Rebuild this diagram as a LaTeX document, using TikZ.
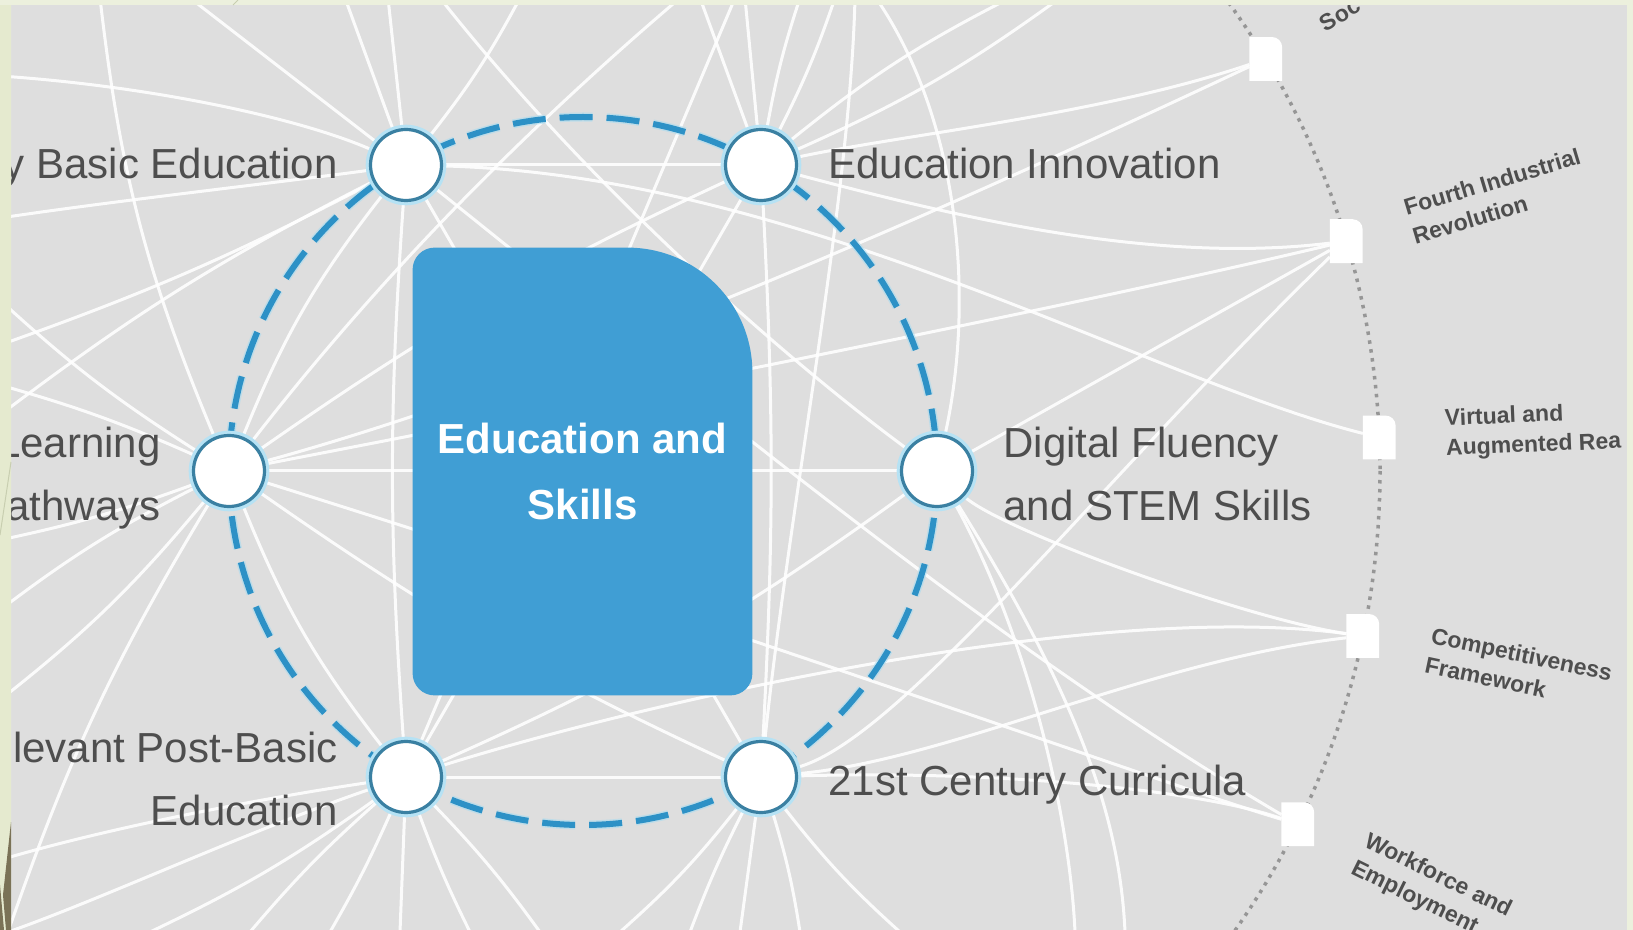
\documentclass[tikz,border=0pt]{standalone}
\usepackage{fontspec}
\setmainfont{Liberation Sans}
\usetikzlibrary{calc}
\definecolor{bggray}{RGB}{222,222,222}
\definecolor{framegreen}{RGB}{236,240,221}
\definecolor{frameleft}{RGB}{229,234,207}
\definecolor{framelinec}{RGB}{200,206,176}
\definecolor{olivec}{RGB}{122,114,86}
\definecolor{boxblue}{RGB}{64,158,212}
\definecolor{ringblue}{RGB}{45,145,198}
\definecolor{ringhalo}{RGB}{170,220,240}
\definecolor{nodeedge}{RGB}{58,128,162}
\definecolor{haloblue}{RGB}{182,226,244}
\definecolor{labelgray}{RGB}{78,78,78}
\definecolor{dotgray}{RGB}{150,150,150}
\pgfdeclarelayer{bg}
\pgfdeclarelayer{lines}
\pgfdeclarelayer{shapes}
\pgfdeclarelayer{top}
\pgfsetlayers{bg,lines,shapes,main,top}
\begin{document}
\begin{tikzpicture}[x=0.5pt,y=-0.5pt,
  hub/.style={circle, minimum size=35.5pt, inner sep=0pt, fill=white, draw=nodeedge, line width=1.6pt, preaction={draw=haloblue, line width=4.8pt}},
  topic/.style={rectangle, minimum width=16pt, minimum height=21.5pt, inner sep=0pt},
  biglabel/.style={font=\fontsize{21}{31.5}\selectfont, text=labelgray, inner sep=0pt},
  ringlabel/.style={font=\bfseries\fontsize{11.5}{15}\selectfont, text=labelgray, inner sep=0pt, anchor=west, align=left},
  link/.style={white, line width=1.5pt, opacity=0.9},
  ringdash/.style={draw=ringblue, line width=3pt, dash pattern=on 16.5pt off 7pt, preaction={draw=ringhalo, line width=4.5pt, dash pattern=on 16.5pt off 7pt, opacity=0.6}},
  ringdot/.style={draw=dotgray, line width=1.75pt, dash pattern=on 1.75pt off 2.75pt},
]
\useasboundingbox (0,0) rectangle (1633,930);
\coordinate (c) at (583,471);
\coordinate (oc) at (580,471);

% hub circles
\node[hub] (tl) at (406,165) {};
\node[hub] (tr) at (761,165) {};
\node[hub] (l) at (229,471) {};
\node[hub] (r) at (937,471) {};
\node[hub] (bl) at (406,777) {};
\node[hub] (br) at (761,777) {};

% central topic
\node[inner sep=0pt, minimum width=169.5pt, minimum height=223.5pt, text=white,
      font=\bfseries\fontsize{21}{33}\selectfont, align=center] (core) at (582.5,471.5) {Education and\\Skills};

% outer ring topics
\node[topic] (s1) at ({580+800*cos(31.0)},{471-800*sin(31.0)}) {};
\node[topic] (s2) at ({580+800*cos(16.7)},{471-800*sin(16.7)}) {};
\node[topic] (s3) at ({580+800*cos(2.4)},{471-800*sin(2.4)}) {};
\node[topic] (s4) at ({580+800*cos(-11.9)},{471-800*sin(-11.9)}) {};
\node[topic] (s5) at ({580+800*cos(-26.2)},{471-800*sin(-26.2)}) {};

% labels
\node[biglabel, anchor=base east] (ltl) at (338,179) {y Basic Education};
\node[biglabel, anchor=base west] (ltr) at (828,179) {Education Innovation};
\node[biglabel, anchor=east, align=right] (ll) at (161,478) {Learning\\athways};
\node[biglabel, anchor=west, align=left] (lr) at (1003,474) {Digital Fluency\\and STEM Skills};
\node[biglabel, anchor=east, align=right] (lbl) at (338,779) {levant Post-Basic\\Education};
\node[biglabel, anchor=base west] (lbr) at (828,795) {21st Century Curricula};

\node[ringlabel, rotate=31.0] (ls1) at ({580+865*cos(31.0)},{471-865*sin(31.0)}) {Soc};
\node[ringlabel, rotate=16.7] (ls2) at ({580+865*cos(16.7)},{471-865*sin(16.7)}) {Fourth Industrial\\Revolution};
\node[ringlabel, rotate=2.4] (ls3) at ({580+866*cos(2.4)},{471-866*sin(2.4)}) {Virtual and\\Augmented Rea};
\node[ringlabel, rotate=-11.9] (ls4) at ({580+867*cos(-11.9)},{471-867*sin(-11.9)}) {Competitiveness\\Framework};
\node[ringlabel, rotate=-26.2] (ls5) at ({580+868*cos(-26.2)},{471-868*sin(-26.2)}) {Workforce and\\Employment};

% shapes under the node texts
\newcommand\topicshape[1]{\fill[white] (#1.south west) -- (#1.south east) -- ($(#1.north east)+(0,10)$) .. controls +(0,-5.5) and +(5.5,0) .. ($(#1.north east)+(-10,0)$) -- (#1.north west) -- cycle;}
\begin{pgfonlayer}{shapes}
\fill[boxblue] ($(core.north west)+(0,22)$) -- ($(core.south west)+(0,-22)$)
  .. controls +(0,12.15) and +(-12.15,0) .. ($(core.south west)+(22,0)$)
  -- ($(core.south east)+(-22,0)$)
  .. controls +(12.15,0) and +(0,12.15) .. ($(core.south east)+(0,-22)$)
  -- ($(core.north east)+(0,125)$)
  .. controls +(0,-69) and +(69,0) .. ($(core.north east)+(-125,0)$)
  -- ($(core.north west)+(22,0)$)
  .. controls +(-12.15,0) and +(0,-12.15) .. ($(core.north west)+(0,22)$) -- cycle;
\topicshape{s1}\topicshape{s2}\topicshape{s3}\topicshape{s4}\topicshape{s5}
\end{pgfonlayer}

% background
\begin{pgfonlayer}{bg}
\fill[bggray] (0,0) rectangle (1633,930);
\end{pgfonlayer}

% free ends of links to topics outside the picture
\coordinate (o1) at (0,76);     \coordinate (o2) at (190,-2);   \coordinate (o3) at (345,-2);
\coordinate (o4) at (388,-2);   \coordinate (o5) at (520,-2);   \coordinate (o6) at (0,218);
\coordinate (o7) at (0,345);    \coordinate (o8) at (0,415);    \coordinate (o9) at (700,-2);
\coordinate (o10) at (745,-2);  \coordinate (o11) at (800,-2);  \coordinate (o12) at (835,-2);
\coordinate (o13) at (1010,-2); \coordinate (o14) at (1060,-2); \coordinate (o15) at (0,300);
\coordinate (o16) at (0,385);   \coordinate (o17) at (0,540);   \coordinate (o18) at (0,610);
\coordinate (o19) at (0,700);   \coordinate (o20) at (8,932);   \coordinate (o21) at (680,-2);
\coordinate (o22) at (876,-2);  \coordinate (o23) at (1075,932);\coordinate (o24) at (1125,932);
\coordinate (o25) at (150,932); \coordinate (o26) at (250,932); \coordinate (o27) at (330,932);
\coordinate (o28) at (400,932); \coordinate (o29) at (470,932); \coordinate (o30) at (540,932);
\coordinate (o31) at (735,-2);  \coordinate (o32) at (620,932); \coordinate (o33) at (690,932);
\coordinate (o34) at (740,932); \coordinate (o35) at (800,932); \coordinate (o36) at (900,932);
\coordinate (o37) at (855,-2);  \coordinate (o38) at (440,-2);  \coordinate (o39) at (0,860);
\coordinate (o40) at (100,-2);

% connectors
\begin{pgfonlayer}{lines}
\begin{scope}
\clip (0,0) rectangle (1633,930);
\draw[ringdot] (oc) circle (800);
% from the upper left hub
\draw[link] (tl) .. controls (300,118) and (150,86) .. (o1);
\draw[link] (tl) -- (o2);
\draw[link] (tl) -- (o3);
\draw[link] (tl) -- (o4);
\draw[link] (tl) to[bend right=5] (o5);
\draw[link] (tl) .. controls (300,180) and (120,200) .. (o6);
\draw[link] (tl) to[bend left=4] (o7);
\draw[link] (tl) to[bend right=5] (o8);
\draw[link] (tl) .. controls (800,175) and (1150,380) .. (s3);
\draw[link] (tl) .. controls (700,400) and (1000,650) .. (s5);
% from the upper right hub
\draw[link] (tr) -- (o9);
\draw[link] (tr) -- (o10);
\draw[link] (tr) to[bend left=4] (o11);
\draw[link] (tr) to[bend right=4] (o12);
\draw[link] (tr) to[bend left=6] (o13);
\draw[link] (tr) to[bend right=6] (o14);
\draw[link] (tr) .. controls (900,135) and (1100,115) .. (s1);
\draw[link] (tr) .. controls (950,215) and (1150,265) .. (s2);
% from the left hub
\draw[link] (l) to[bend left=5] (o15);
\draw[link] (l) to[bend right=4] (o16);
\draw[link] (l) to[bend left=4] (o17);
\draw[link] (l) to[bend right=5] (o18);
\draw[link] (l) to[bend left=6] (o19);
\draw[link] (l) to[bend right=6] (o20);
\draw[link] (l) .. controls (400,250) and (560,100) .. (o21);
\draw[link] (l) .. controls (600,370) and (1050,160) .. (s1);
\draw[link] (l) .. controls (700,380) and (1100,300) .. (s2);
\draw[link] (l) .. controls (800,650) and (1150,780) .. (s5);
\draw[link] (l) to[bend left=8] (o40);
% from the right hub
\draw[link] (r) .. controls (975,300) and (960,120) .. (o22);
\draw[link] (r) -- (s2);
\draw[link] (r) .. controls (1000,530) and (1250,620) .. (s4);
\draw[link] (r) .. controls (1030,640) and (1070,820) .. (o23);
\draw[link] (r) .. controls (1080,700) and (1120,820) .. (o24);
\draw[link] (o38) .. controls (600,200) and (800,370) .. (r);
% from the lower left hub
\draw[link] (bl) .. controls (250,830) and (100,900) .. (o20);
\draw[link] (bl) to[bend left=5] (o25);
\draw[link] (bl) to[bend right=4] (o26);
\draw[link] (bl) to[bend left=3] (o27);
\draw[link] (bl) -- (o28);
\draw[link] (bl) to[bend right=3] (o29);
\draw[link] (bl) to[bend left=4] (o30);
\draw[link] (bl) .. controls (250,800) and (100,830) .. (o39);
\draw[link] (bl) -- (o31);
\draw[link] (bl) .. controls (650,700) and (1100,600) .. (s4);
% from the lower right hub
\draw[link] (br) to[bend left=5] (o32);
\draw[link] (br) to[bend right=3] (o33);
\draw[link] (br) -- (o34);
\draw[link] (br) to[bend left=4] (o35);
\draw[link] (br) to[bend right=5] (o36);
\draw[link] (br) .. controls (790,500) and (850,200) .. (o37);
\draw[link] (br) .. controls (900,740) and (1100,480) .. (s2);
\draw[link] (br) .. controls (950,760) and (1150,660) .. (s4);
\draw[link] (br) .. controls (1000,770) and (1200,790) .. (s5);
% hub to hub
\draw[link] (tl) -- (tr);
\draw[link] (bl) -- (br);
\draw[link] (tr) -- (bl);
\draw[link] (tl) -- (br);
\draw[link] (l) to[bend left=5] (tr);
\draw[link] (l) to[bend right=5] (br);
\draw[link] (bl) to[bend right=6] (r);
\draw[link] (l) -- (r);
\draw[link] (tl) to[bend right=4] (bl);
\draw[link] (tr) to[bend left=3] (br);
\draw[link] (l) to[bend left=8] (tl);
\draw[link] (l) to[bend right=8] (bl);
% dashed ring
\draw[ringdash] (c) circle (354);
\end{scope}
\end{pgfonlayer}

% slide frame
\begin{pgfonlayer}{top}
\fill[framegreen, even odd rule] (0,0) rectangle (1633,930) (11,5) rectangle (1627,940);
\fill[frameleft] (0,5) rectangle (11,930);
\draw[framelinec, line width=0.5pt] (0,535) -- (11,462);
\draw[framelinec, line width=0.5pt] (233,5) -- (238,0);
\fill[olivec] (11,822) -- (11,930) -- (6,930) -- (3,895) -- cycle;
\fill[olivec] (0,885) -- (4,930) -- (0,930) -- cycle;
\end{pgfonlayer}
\end{tikzpicture}
\end{document}
